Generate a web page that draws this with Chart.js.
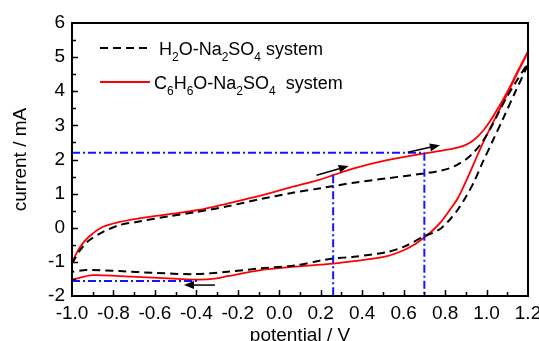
<!DOCTYPE html>
<html>
<head>
<meta charset="utf-8">
<script src="https://cdn.jsdelivr.net/npm/chart.js@4.4.1/dist/chart.umd.min.js"></script>
<style>
  body { margin: 0; background: #fff; }
  #wrap { width: 539px; height: 341px; }
</style>
</head>
<body>
<div id="wrap"><canvas id="cvChart" width="539" height="341"></canvas></div>
<script>
/* cyclic voltammetry, two electrolyte systems */
var h2oFwdV = [-1.0, -0.96, -0.92, -0.85, -0.77, -0.69, -0.53, -0.41, -0.25, -0.09, 0.06, 0.2, 0.36, 0.52, 0.7, 0.76, 0.82, 0.86, 0.9, 0.94, 0.98, 1.02, 1.06, 1.1, 1.15, 1.2];
var h2oFwdI = [-1.05, -0.65, -0.38, -0.12, 0.08, 0.17, 0.34, 0.45, 0.63, 0.84, 1.02, 1.16, 1.32, 1.45, 1.59, 1.65, 1.74, 1.85, 2.0, 2.22, 2.52, 2.92, 3.4, 3.85, 4.35, 4.8];
var h2oRevV = [1.14, 1.08, 1.03, 0.98, 0.94, 0.9, 0.86, 0.82, 0.78, 0.74, 0.7, 0.6, 0.52, 0.36, 0.26, 0.2, 0.08, -0.09, -0.25, -0.41, -0.61, -0.77, -0.93, -1.0];
var h2oRevI = [4.0, 3.2, 2.55, 1.9, 1.35, 0.9, 0.52, 0.22, -0.02, -0.15, -0.25, -0.56, -0.71, -0.85, -0.9, -0.96, -1.1, -1.19, -1.29, -1.36, -1.32, -1.27, -1.24, -1.29];

var c6FwdV = [-1.0, -0.96, -0.92, -0.85, -0.77, -0.69, -0.53, -0.39, -0.25, -0.09, 0.04, 0.2, 0.26, 0.36, 0.52, 0.7, 0.82, 0.86, 0.9, 0.94, 0.98, 1.02, 1.06, 1.1, 1.15, 1.2];
var c6FwdI = [-1.0, -0.56, -0.27, 0.03, 0.17, 0.26, 0.4, 0.52, 0.71, 0.94, 1.16, 1.42, 1.54, 1.74, 1.98, 2.18, 2.3, 2.35, 2.43, 2.58, 2.82, 3.15, 3.55, 3.98, 4.58, 5.15];
var c6RevV = [1.13, 1.07, 1.02, 0.98, 0.94, 0.9, 0.86, 0.82, 0.78, 0.74, 0.7, 0.65, 0.6, 0.52, 0.36, 0.26, 0.2, 0.08, -0.09, -0.25, -0.31, -0.39, -0.61, -0.77, -0.9, -1.0];
var c6RevI = [4.3, 3.55, 2.95, 2.45, 1.9, 1.35, 0.85, 0.5, 0.17, -0.08, -0.28, -0.5, -0.66, -0.83, -0.98, -1.05, -1.08, -1.14, -1.24, -1.42, -1.49, -1.52, -1.46, -1.42, -1.39, -1.52];

// blue dash-dot guide lines: [x0, y0, x1, y1]
var guides = [
  [-1.0, 2.2, 0.7, 2.2],
  [0.7, 2.2, 0.7, -2],
  [0.26, 1.54, 0.26, -2],
  [-1.0, -1.56, -0.39, -1.56]
];
// scan direction arrows: [x0, y0, x1, y1]
var arrows = [
  [0.18, 1.54, 0.335, 1.81],
  [0.62, 2.21, 0.775, 2.42],
  [-0.31, -1.68, -0.46, -1.68]
];

var xTicks = { min: -1.0, max: 1.2, step: 0.2 };
var yTicks = { min: -2, max: 6, step: 1 };

var fontFam = "'Liberation Sans Narrow', 'Arial Narrow', 'Liberation Sans', Arial, sans-serif";

function loop(fv, fi, rv, ri) {
  var pts = [];
  for (var i = 0; i < fv.length; i++) pts.push({ x: fv[i], y: fi[i] });
  for (var j = 0; j < rv.length; j++) pts.push({ x: rv[j], y: ri[j] });
  return pts;
}

var datasets = [];
guides.forEach(function (g) {
  datasets.push({
    data: [{ x: g[0], y: g[1] }, { x: g[2], y: g[3] }],
    borderColor: 'rgb(20,20,255)',
    borderWidth: 2,
    borderDash: [8, 3, 2, 3],
    pointRadius: 0,
    tension: 0
  });
});
datasets.push({
  label: 'h2o',
  data: loop(h2oFwdV, h2oFwdI, h2oRevV, h2oRevI),
  borderColor: '#000',
  borderWidth: 2,
  borderDash: [8, 5],
  pointRadius: 0,
  tension: 0.3
});
datasets.push({
  label: 'c6h6o',
  data: loop(c6FwdV, c6FwdI, c6RevV, c6RevI),
  borderColor: 'rgb(255,0,0)',
  borderWidth: 1.8,
  pointRadius: 0,
  tension: 0.3
});

// inward tick marks + frame
var innerTicks = {
  id: 'innerTicks',
  afterDatasetsDraw: function (chart) {
    var ctx = chart.ctx, a = chart.chartArea;
    var xs = chart.scales.x, ys = chart.scales.y;
    ctx.save();
    ctx.strokeStyle = '#000';
    ctx.lineWidth = 1.5;
    ctx.beginPath();
    var n = Math.round((xTicks.max - xTicks.min) / (xTicks.step / 2));
    for (var i = 1; i < n; i++) {
      var v = xTicks.min + i * xTicks.step / 2;
      var px = Math.round(xs.getPixelForValue(v)) + 0.5;
      var len = (i % 2 === 0) ? 6 : 4;
      ctx.moveTo(px, a.bottom);
      ctx.lineTo(px, a.bottom - len);
    }
    n = Math.round((yTicks.max - yTicks.min) / (yTicks.step / 2));
    for (var k = 1; k < n; k++) {
      var w = yTicks.min + k * yTicks.step / 2;
      var py = Math.round(ys.getPixelForValue(w)) + 0.5;
      var l2 = (k % 2 === 0) ? 6 : 4;
      ctx.moveTo(a.left, py);
      ctx.lineTo(a.left + l2, py);
    }
    ctx.stroke();
    ctx.lineWidth = 2;
    ctx.strokeRect(a.left, a.top, a.right - a.left, a.bottom - a.top);
    ctx.restore();
  }
};

var arrowPlugin = {
  id: 'arrowPlugin',
  afterDatasetsDraw: function (chart) {
    var ctx = chart.ctx, xs = chart.scales.x, ys = chart.scales.y;
    ctx.save();
    ctx.strokeStyle = '#000';
    ctx.fillStyle = '#000';
    ctx.lineWidth = 1.5;
    arrows.forEach(function (ar) {
      var x0 = xs.getPixelForValue(ar[0]), y0 = ys.getPixelForValue(ar[1]);
      var x1 = xs.getPixelForValue(ar[2]), y1 = ys.getPixelForValue(ar[3]);
      var ang = Math.atan2(y1 - y0, x1 - x0);
      var hl = 10, hw = 4;
      var bx = x1 - hl * Math.cos(ang), by = y1 - hl * Math.sin(ang);
      ctx.beginPath();
      ctx.moveTo(x0, y0);
      ctx.lineTo(bx, by);
      ctx.stroke();
      ctx.beginPath();
      ctx.moveTo(x1, y1);
      ctx.lineTo(bx + hw * Math.sin(ang), by - hw * Math.cos(ang));
      ctx.lineTo(bx - hw * Math.sin(ang), by + hw * Math.cos(ang));
      ctx.closePath();
      ctx.fill();
    });
    ctx.restore();
  }
};

// legend with subscripted formulas
var legendItems = [
  { parts: [['H'], ['2', 1], ['O-Na'], ['2', 1], ['SO'], ['4', 1], [' system']], color: '#000', dash: [8, 5], width: 2 },
  { parts: [['C'], ['6', 1], ['H'], ['6', 1], ['O-Na'], ['2', 1], ['SO'], ['4', 1], ['  system']], color: 'rgb(255,0,0)', dash: [], width: 1.8 }
];
var formulaLegend = {
  id: 'formulaLegend',
  afterDraw: function (chart) {
    var ctx = chart.ctx, a = chart.chartArea;
    ctx.save();
    legendItems.forEach(function (it, idx) {
      var ly = a.top + 25 + idx * 34;
      ctx.strokeStyle = it.color;
      ctx.lineWidth = it.width;
      ctx.setLineDash(it.dash);
      ctx.beginPath();
      ctx.moveTo(a.left + 28, ly);
      ctx.lineTo(a.left + 78, ly);
      ctx.stroke();
      ctx.setLineDash([]);
      var tx = a.left + (idx === 0 ? 87 : 82);
      var base = ly + 7;
      ctx.fillStyle = '#000';
      ctx.textBaseline = 'alphabetic';
      ctx.textAlign = 'left';
      it.parts.forEach(function (p) {
        if (p[1]) {
          ctx.font = '12px ' + fontFam;
          ctx.fillText(p[0], tx, base + 6);
        } else {
          ctx.font = '18px ' + fontFam;
          ctx.fillText(p[0], tx, base);
        }
        tx += ctx.measureText(p[0]).width;
      });
    });
    ctx.restore();
  }
};

Chart.defaults.font.family = fontFam;
Chart.defaults.color = '#000';

var ctx = document.getElementById('cvChart').getContext('2d');
var cvChart = new Chart(ctx, {
  type: 'line',
  data: { datasets: datasets },
  options: {
    responsive: false,
    animation: false,
    layout: { autoPadding: false, padding: { top: 23, right: 11, left: 0, bottom: 0 } },
    plugins: { legend: { display: false }, tooltip: { enabled: false } },
    scales: {
      x: {
        type: 'linear',
        min: xTicks.min,
        max: xTicks.max,
        grid: { display: false, drawTicks: false },
        border: { display: false },
        ticks: {
          stepSize: xTicks.step,
          padding: 6,
          maxRotation: 0,
          autoSkip: false,
          font: { size: 19 },
          callback: function (v) { return v.toFixed(1); }
        },
        title: { display: true, text: 'potential / V', font: { size: 19 }, padding: { top: 0, bottom: -6 } },
        afterFit: function (s) { s.height = 45; s.paddingLeft = 0; s.paddingRight = 0; }
      },
      y: {
        type: 'linear',
        min: yTicks.min,
        max: yTicks.max,
        grid: { display: false, drawTicks: false },
        border: { display: false },
        ticks: {
          stepSize: yTicks.step,
          padding: 7,
          autoSkip: false,
          font: { size: 19 }
        },
        title: { display: true, text: 'current / mA', font: { size: 19 }, padding: { top: 9, bottom: 0 } },
        afterFit: function (s) { s.width = 72; s.paddingTop = 0; s.paddingBottom = 0; }
      }
    }
  },
  plugins: [innerTicks, arrowPlugin, formulaLegend]
});
</script>
</body>
</html>
